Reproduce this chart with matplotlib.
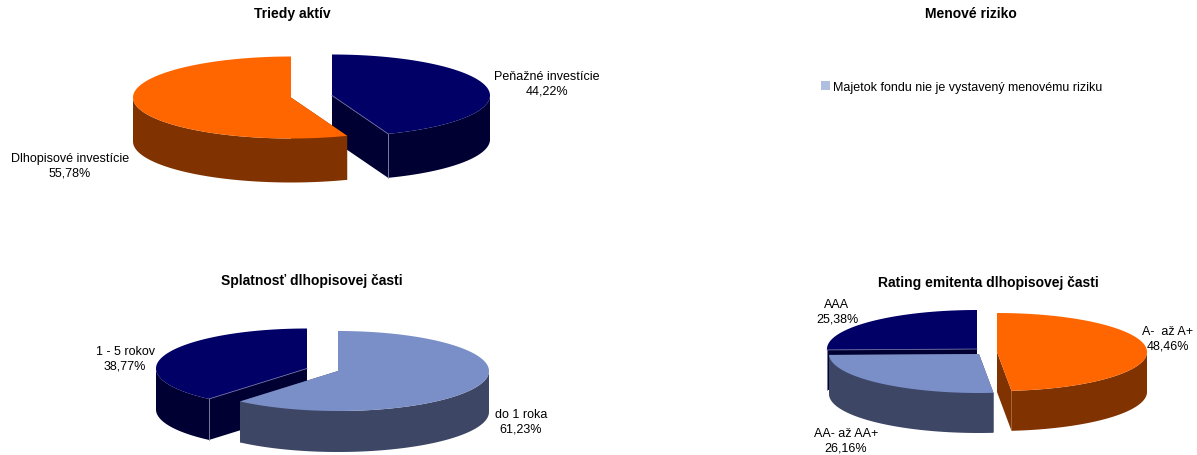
import numpy as np
import matplotlib
matplotlib.use('Agg')
import matplotlib.pyplot as plt
from matplotlib.patches import Polygon, Patch

plt.rcParams['font.family'] = ['Liberation Sans', 'DejaVu Sans']

NAVY, NAVY_D = '#000066', '#000033'
ORANGE, ORANGE_D = '#ff6600', '#803300'
BLUE, BLUE_D = '#7a8ec8', '#3e4665'

# data, clockwise from 12 o'clock
aktiva_names = ['Peňažné investície', 'Dlhopisové investície']
aktiva_values = [44.22, 55.78]
aktiva_colors = [(NAVY, NAVY_D), (ORANGE, ORANGE_D)]

splatnost_names = ['do 1 roka', '1 - 5 rokov']
splatnost_values = [61.23, 38.77]
splatnost_colors = [(BLUE, BLUE_D), (NAVY, NAVY_D)]

rating_names = ['A-  až A+', 'AA- až AA+', 'AAA']
rating_values = [48.46, 26.16, 25.38]
rating_colors = [(ORANGE, ORANGE_D), (BLUE, BLUE_D), (NAVY, NAVY_D)]

riziko_legend = 'Majetok fondu nie je vystavený menovému riziku'

fig = plt.figure(figsize=(11.97, 4.56), dpi=100)
ax = fig.add_axes([0, 0, 1, 1])
ax.set_xlim(0, 1197)
ax.set_ylim(456, 0)
ax.axis('off')


def arc(cx, cy, rx, ry, a0, a1):
    t = np.radians(np.linspace(a0, a1, 150))
    return np.column_stack([cx + rx * np.sin(t), cy - ry * np.cos(t)])


def pie3d(values, colors, centers, rx, ry, depth):
    # navy goes first, the other slices sit in front of it
    start = np.cumsum([0] + list(values))[:-1] * 3.6
    order = sorted(range(len(values)), key=lambda i: colors[i][0] != NAVY)
    for i in order:
        a0 = start[i]
        a1 = a0 + values[i] * 3.6
        cx, cy = centers[i]
        top, side = colors[i]
        down = np.array([0, depth])
        apex = np.array([cx, cy])
        # cut faces
        for a in (a0, a1):
            p = arc(cx, cy, rx, ry, a, a)[0]
            ax.add_patch(Polygon([apex, p, p + down, apex + down], fc=side, ec='none'))
        # outer wall, only the front half shows
        w0, w1 = max(a0, 90), min(a1, 270)
        if w1 > w0:
            edge = arc(cx, cy, rx, ry, w0, w1)
            ax.add_patch(Polygon(np.vstack([edge, (edge + down)[::-1]]), fc=side, ec='none'))
        rim = arc(cx, cy, rx, ry, a0, a1)
        ax.add_patch(Polygon(np.vstack([apex, rim]), fc=top, ec='none'))
        if top == NAVY:
            # pale seam along the navy slice
            tip = rim[-1] if a1 < 270 else rim[0]
            ax.plot([apex[0], tip[0]], [apex[1], tip[1]], color='#6a6aa0', lw=0.6)
            if 90 < a0 < 270 or 90 < a1 < 270:
                ax.plot([tip[0], tip[0]], [tip[1], tip[1] + depth], color='#8a8ab0', lw=0.6)


pie3d(aktiva_values, aktiva_colors, [(332, 96.5), (291, 98.5)], 158, 41, 44)
pie3d(splatnost_values, splatnost_colors, [(338, 372), (307, 369.5)], 151, 40, 41)
pie3d(rating_values, rating_colors, [(997, 353), (979, 355), (977, 350)], 150, 39, 40)


def label(x, y, name, value):
    txt = name + '\n' + ('%.2f%%' % value).replace('.', ',')
    ax.text(x, y, txt, ha='center', va='center', fontsize=9, color='black', linespacing=1.32)


label(547, 84, aktiva_names[0], aktiva_values[0])
label(70, 166, aktiva_names[1], aktiva_values[1])
label(521, 422.5, splatnost_names[0], splatnost_values[0])
label(125, 359.5, splatnost_names[1], splatnost_values[1])
label(1168, 339, rating_names[0], rating_values[0])
label(846, 441.5, rating_names[1], rating_values[1])
label(837, 312.5, rating_names[2], rating_values[2])

ax.text(292, 14, 'Triedy aktív', ha='center', va='center', fontsize=10, fontweight='bold')
ax.text(971, 14, 'Menové riziko', ha='center', va='center', fontsize=10, fontweight='bold')
ax.text(312, 281, 'Splatnosť dlhopisovej časti', ha='center', va='center', fontsize=10, fontweight='bold')
ax.text(988, 283, 'Rating emitenta dlhopisovej časti', ha='center', va='center', fontsize=10, fontweight='bold')

ax.legend(handles=[Patch(fc='#b0bee0', ec='none', label=riziko_legend)],
          loc='center left', bbox_to_anchor=(816, 88), bbox_transform=ax.transData,
          frameon=False, fontsize=9, handlelength=0.75, handleheight=0.75,
          handletextpad=0.2, borderpad=0, borderaxespad=0.4)

fig.savefig('out.png', dpi=100)
